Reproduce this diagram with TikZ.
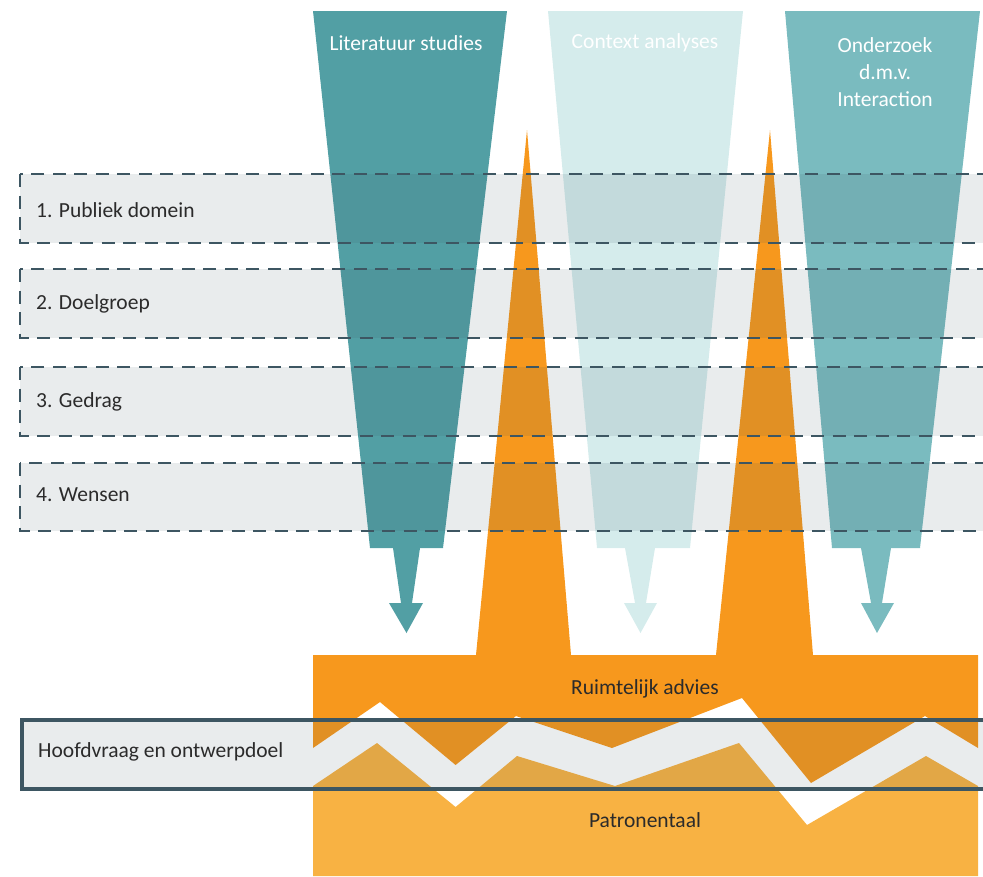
\documentclass[tikz,border=0pt]{standalone}
\usepackage{fontspec}
\setmainfont{Carlito}
\definecolor{tealA}{HTML}{529FA4}
\definecolor{tealB}{HTML}{D5ECEC}
\definecolor{tealC}{HTML}{7ABBBF}
\definecolor{orangeA}{HTML}{F7981D}
\definecolor{orangeB}{HTML}{F8B243}
\definecolor{slate}{HTML}{3D5662}
\definecolor{textdark}{HTML}{2B2B2B}
\begin{document}
\begin{tikzpicture}[x=1pt,y=-1pt,
  lbl/.style={font=\fontsize{21.5}{26}\selectfont, text=textdark, inner sep=0pt},
  wlbl/.style={font=\fontsize{21.5}{27}\selectfont, text=white, inner sep=0pt, align=center},
  band/.style={fill=slate, fill opacity=0.115, draw=slate, draw opacity=1, line width=2.5pt, dash pattern=on 13pt off 8.5pt},
  mainbox/.style={fill=slate, fill opacity=0.115, draw=slate, draw opacity=1, line width=4pt}]
\useasboundingbox (0,0) rectangle (983,876);
% funnels with arrows
\fill[tealA] (313,11) -- (507,11) -- (443,548) -- (420,548) -- (412,603) -- (423,603) -- (406.5,633) -- (389,603) -- (401,603) -- (393,548) -- (370,548) -- cycle;
\fill[tealB] (548,11) -- (743,11) -- (690,548) -- (655,548) -- (646,603) -- (657,603) -- (640.5,633) -- (624,603) -- (635,603) -- (625,548) -- (597,548) -- cycle;
\fill[tealC] (785,11) -- (980,11) -- (920,548) -- (891,548) -- (882,603) -- (894,603) -- (877,633) -- (861,603) -- (871,603) -- (861,548) -- (832,548) -- cycle;
% orange advice block with spikes
\fill[orangeA] (313,655) -- (476,655) -- (527,130) -- (571,655) -- (716,655) -- (770,130) -- (813,655) -- (978,655) -- (978,748) -- (925,716) -- (811,783) -- (742,698) -- (612,748) -- (516,716) -- (455.6,765) -- (380,702) -- (313,748) -- cycle;
% pattern language block
\fill[orangeB] (313,786) -- (377,743) -- (455.6,807) -- (517,756) -- (615,786) -- (739,743) -- (807,825) -- (926,756) -- (978,786) -- (978,876) -- (313,876) -- cycle;
% bands
\draw[band] (20,174) rectangle (995,243);
\draw[band] (20,269) rectangle (995,338);
\draw[band] (20,367) rectangle (995,436);
\draw[band] (20,463) rectangle (995,531);
\node[lbl, anchor=west] (b1) at (36,210) {1. Publiek domein};
\node[lbl, anchor=west] (b2) at (36,304) {2. Doelgroep};
\node[lbl, anchor=west] (b3) at (36,402) {3. Gedrag};
\node[lbl, anchor=west] (b4) at (36,495) {4. Wensen};
% main question box
\draw[mainbox] (22,720) rectangle (995,789);
\node[lbl, anchor=west] (hq) at (38,752) {Hoofdvraag en ontwerpdoel};
% funnel labels
\node[wlbl] (f1) at (406,43) {Literatuur studies};
\node[wlbl] (f2) at (645,43) {Context analyses};
\node[wlbl] (f3) at (885,72) {Onderzoek\\d.m.v.\\Interaction};
% block labels
\node[lbl] (ra) at (645,689) {Ruimtelijk advies};
\node[lbl] (pt) at (645,820) {Patronentaal};
\end{tikzpicture}
\end{document}
